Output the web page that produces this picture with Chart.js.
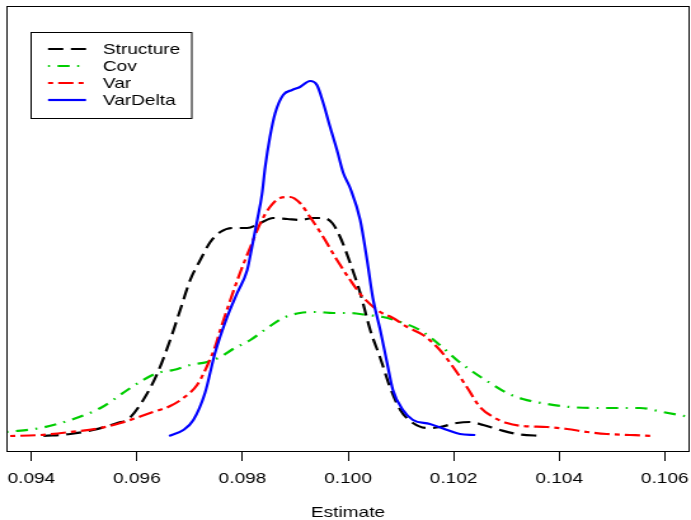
<!DOCTYPE html>
<html>
<head>
<meta charset="utf-8">
<script src="https://cdn.jsdelivr.net/npm/chart.js@4"></script>
<style>
  html, body { margin: 0; padding: 0; background: #fff; overflow: hidden; }
  /* the reference is an R plot stretched sideways, so draw narrow and widen */
  #densityChart { transform: scaleX(1.2702); transform-origin: 0 0; }
</style>
</head>
<body>
<canvas id="densityChart" width="544" height="520"></canvas>
<script>
// Kernel density curves of the estimate
const tickValues = [0.094, 0.096, 0.098, 0.100, 0.102, 0.104, 0.106];

const structureX = [0.09423, 0.09474, 0.09517, 0.09563, 0.09584, 0.09612, 0.09639, 0.09663, 0.09682, 0.09701,
    0.09720, 0.09739, 0.09758, 0.09782, 0.09809, 0.09834, 0.09858, 0.09885, 0.09909, 0.09934,
    0.09953, 0.09970, 0.09985, 0.10004, 0.10023, 0.10042, 0.10061, 0.10080, 0.10099, 0.10123,
    0.10150, 0.10174, 0.10206, 0.10231, 0.10256, 0.10288, 0.10320, 0.10369];
const structureY = [0, 2, 6, 13, 17, 36, 63, 96, 126, 156,
    176, 194, 204, 208, 208, 213, 218, 217, 216, 218,
    218, 213, 199, 173, 143, 106, 78, 48, 26, 13,
    8, 9, 13, 14, 11, 6, 2, 0];

const covX = [0.09353, 0.09417, 0.09474, 0.09531, 0.09582, 0.09612, 0.09639, 0.09669, 0.09701, 0.09733,
    0.09758, 0.09782, 0.09815, 0.09847, 0.09877, 0.09909, 0.09941, 0.09972, 0.10004, 0.10036,
    0.10066, 0.10099, 0.10136, 0.10174, 0.10206, 0.10237, 0.10269, 0.10301, 0.10331, 0.10377,
    0.10420, 0.10464, 0.10515, 0.10553, 0.10596, 0.10647];
const covY = [4, 8, 16, 28, 46, 56, 63, 66, 71, 74,
    79, 87, 96, 108, 118, 123, 124, 123, 123, 121,
    119, 114, 106, 91, 76, 64, 53, 43, 37, 32,
    29, 28, 28, 28, 24, 19];

const varX = [0.09360, 0.09417, 0.09474, 0.09531, 0.09569, 0.09625, 0.09663, 0.09688, 0.09714, 0.09733,
    0.09748, 0.09758, 0.09777, 0.09796, 0.09815, 0.09834, 0.09852, 0.09871, 0.09890, 0.09909,
    0.09928, 0.09953, 0.09979, 0.10004, 0.10028, 0.10061, 0.10085, 0.10112, 0.10142, 0.10174,
    0.10199, 0.10225, 0.10250, 0.10275, 0.10301, 0.10331, 0.10377, 0.10415, 0.10453, 0.10490,
    0.10534, 0.10578];
const varY = [0, 1, 4, 8, 13, 23, 30, 38, 51, 70,
    89, 106, 136, 164, 189, 213, 229, 238, 239, 233,
    219, 199, 176, 156, 139, 124, 118, 109, 101, 86,
    69, 49, 29, 19, 13, 10, 9, 7, 4, 2,
    1, 0];

const varDeltaX = [0.09661, 0.09688, 0.09707, 0.09729, 0.09748, 0.09771, 0.09790, 0.09809, 0.09818, 0.09828,
    0.09837, 0.09843, 0.09852, 0.09862, 0.09877, 0.09894, 0.09909, 0.09928, 0.09941, 0.09953,
    0.09966, 0.09979, 0.09991, 0.10004, 0.10023, 0.10036, 0.10047, 0.10061, 0.10074, 0.10085,
    0.10104, 0.10123, 0.10155, 0.10188, 0.10212, 0.10241];
const varDeltaY = [0, 6, 16, 43, 83, 119, 143, 166, 189, 216,
    242, 269, 299, 323, 341, 346, 349, 355, 351, 333,
    309, 286, 263, 248, 216, 176, 138, 106, 73, 46,
    26, 16, 12, 6, 2, 1];

const toPoints = (xs, ys) => xs.map((x, i) => ({ x: x, y: ys[i] }));

function makeSeries(label, xs, ys, color, dash, order) {
    return {
        label: label,
        data: toPoints(xs, ys),
        borderColor: color,
        borderDash: dash,
        borderWidth: 2.2,
        borderCapStyle: 'butt',
        pointRadius: 0,
        fill: false,
        cubicInterpolationMode: 'monotone',
        clip: 0,
        order: order
    };
}

// box around the plotting region (R's box())
const plotBox = {
    id: 'plotBox',
    afterDraw(chart) {
        const { ctx, chartArea: a } = chart;
        ctx.save();
        ctx.strokeStyle = '#000';
        ctx.lineWidth = 1;
        ctx.strokeRect(a.left + 0.5, a.top + 0.5, a.right - a.left - 1, a.bottom - a.top - 1);
        ctx.restore();
    }
};

// legend drawn inside the plot, top left, with a frame
const boxLegend = {
    id: 'boxLegend',
    afterDraw(chart) {
        const ctx = chart.ctx;
        const sets = chart.data.datasets;
        const bx = 24.5, by = 32.5, bw = 126.5, bh = 86;
        ctx.save();
        ctx.fillStyle = '#fff';
        ctx.fillRect(bx, by, bw, bh);
        ctx.strokeStyle = '#000';
        ctx.lineWidth = 1;
        ctx.strokeRect(bx, by, bw, bh);
        ctx.font = '15px "Liberation Sans", Arial, sans-serif';
        ctx.textBaseline = 'middle';
        sets.forEach((ds, i) => {
            const y = 49 + i * 17;
            ctx.beginPath();
            ctx.setLineDash(ds.borderDash);
            ctx.strokeStyle = ds.borderColor;
            ctx.lineWidth = 2.2;
            ctx.moveTo(37.8, y);
            ctx.lineTo(67.7, y);
            ctx.stroke();
            ctx.setLineDash([]);
            ctx.fillStyle = '#000';
            ctx.fillText(ds.label, 81, y + 1);
        });
        ctx.restore();
    }
};

Chart.defaults.font.family = '"Liberation Sans", Arial, sans-serif';
Chart.defaults.color = '#000';

const ctx = document.getElementById('densityChart').getContext('2d');
const densityChart = new Chart(ctx, {
    type: 'line',
    data: {
        datasets: [
            makeSeries('Structure', structureX, structureY, '#000000', [12, 6], 4),
            makeSeries('Cov', covX, covY, '#00cd00', [1.5, 6, 9.5, 6], 3),
            makeSeries('Var', varX, varY, '#ff0000', [4, 4, 12, 4], 2),
            makeSeries('VarDelta', varDeltaX, varDeltaY, '#0000ff', [], 1)
        ]
    },
    options: {
        responsive: false,
        animation: false,
        layout: { padding: { left: 5, right: 1, top: 6, bottom: 0 } },
        scales: {
            x: {
                type: 'linear',
                min: 0.093527,
                max: 0.106473,
                afterBuildTicks: (scale) => { scale.ticks = tickValues.map(v => ({ value: v })); },
                afterFit: (scale) => {
                    scale.height = 68;
                    scale.paddingLeft = 0;
                    scale.paddingRight = 0;
                },
                border: { display: false },
                grid: { drawOnChartArea: false, drawTicks: true, tickLength: 9, color: '#000', lineWidth: 1 },
                ticks: {
                    padding: 9,
                    maxRotation: 0,
                    autoSkip: false,
                    font: { size: 15 },
                    callback: (v) => Number(v).toFixed(3)
                },
                title: { display: true, text: 'Estimate', font: { size: 15 }, padding: { top: 0, bottom: -2 } }
            },
            y: { type: 'linear', display: false, min: -16, max: 430 }
        },
        plugins: { legend: { display: false }, tooltip: { enabled: false } }
    },
    plugins: [plotBox, boxLegend]
});
</script>
</body>
</html>
